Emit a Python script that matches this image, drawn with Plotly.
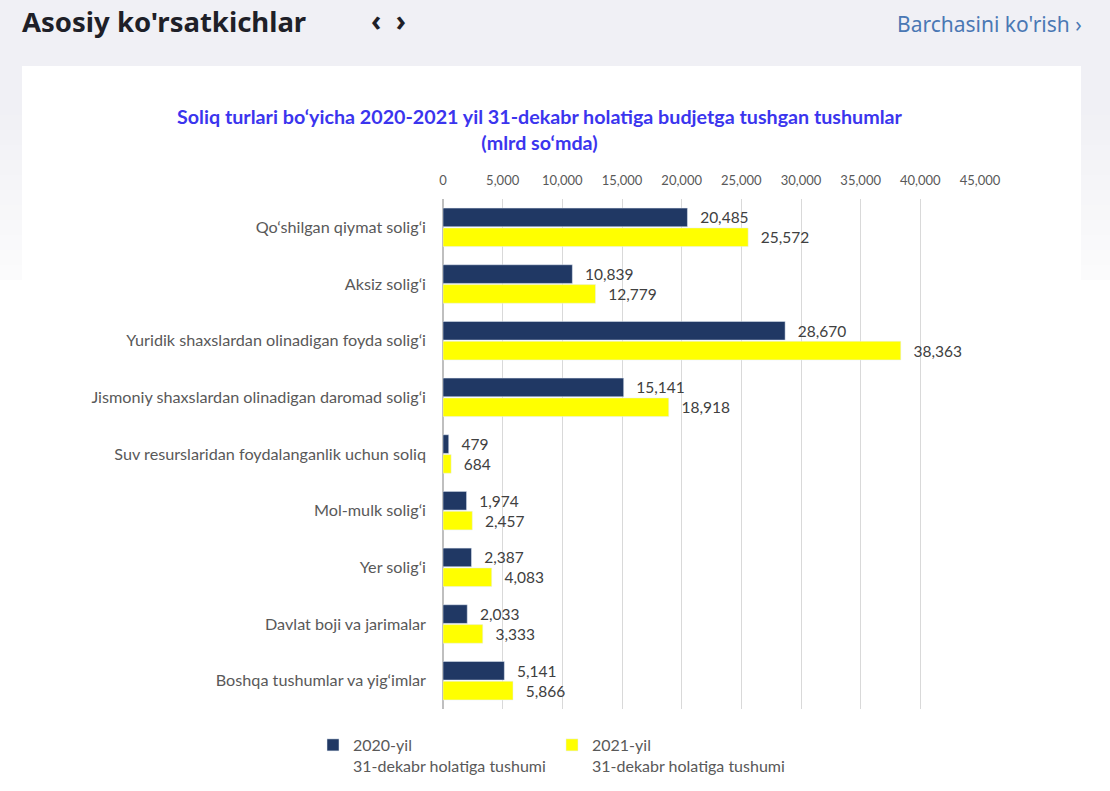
import plotly.graph_objects as go

# data (mlrd so'm)
categories = [
    "Qo‘shilgan qiymat solig‘i",
    "Aksiz solig‘i",
    "Yuridik shaxslardan olinadigan foyda solig‘i",
    "Jismoniy shaxslardan olinadigan daromad solig‘i",
    "Suv resurslaridan foydalanganlik uchun soliq",
    "Mol-mulk solig‘i",
    "Yer solig‘i",
    "Davlat boji va jarimalar",
    "Boshqa tushumlar va yig‘imlar",
]
values_2020 = [20485, 10839, 28670, 15141, 479, 1974, 2387, 2033, 5141]
values_2021 = [25572, 12779, 38363, 18918, 684, 2457, 4083, 3333, 5866]
series_names = [
    "2020-yil<br>31-dekabr holatiga tushumi",
    "2021-yil<br>31-dekabr holatiga tushumi",
]
x_ticks = [0, 5000, 10000, 15000, 20000, 25000, 30000, 35000, 40000, 45000]

W, H = 1110, 791
FONT = "Lato"


def px_x(v):
    return v / W


def px_y(v):
    return 1 - v / H


fig = go.Figure()
fig.add_trace(go.Bar(
    y=categories, x=values_2020, orientation="h", name=series_names[0],
    marker_color="#203864", texttemplate="\u2002\u2009%{x:,.0f}", textposition="outside",
    textfont=dict(size=15.5, color="#404040"), cliponaxis=False,
))
fig.add_trace(go.Bar(
    y=categories, x=values_2021, orientation="h", name=series_names[1],
    marker_color="#ffff00", texttemplate="\u2002\u2009%{x:,.0f}", textposition="outside",
    textfont=dict(size=15.5, color="#404040"), cliponaxis=False,
))

# page background: grey band fading to white, then the white card
shapes = [dict(type="rect", xref="paper", yref="paper", x0=0, x1=1,
               y0=px_y(100), y1=1, fillcolor="#f0f0f5", line_width=0, layer="below")]
n = 12
for i in range(n):
    t = i / n
    r = int(240 + (252 - 240) * t)
    b = int(245 + (253 - 245) * t)
    shapes.append(dict(type="rect", xref="paper", yref="paper", x0=0, x1=1,
                       y0=px_y(100 + 15 * (i + 1)), y1=px_y(100 + 15 * i),
                       fillcolor=f"rgb({r},{r},{b})", line_width=0, layer="below"))
shapes.append(dict(type="rect", xref="paper", yref="paper", x0=px_x(22), x1=px_x(1081),
                   y0=0, y1=px_y(66), fillcolor="white", line_width=0, layer="below"))

annotations = [
    dict(text="<b>Asosiy ko'rsatkichlar</b>", x=px_x(20), y=px_y(21), xref="paper", yref="paper",
         xanchor="left", yanchor="middle", showarrow=False,
         font=dict(family="Noto Sans", size=27.5, color="#1e1f28")),
    dict(text="<b>‹  ›</b>", x=px_x(389), y=px_y(20), xref="paper", yref="paper",
         xanchor="center", yanchor="middle", showarrow=False,
         font=dict(family="Noto Sans", size=28, color="#1e1f28")),
    dict(text="Barchasini ko'rish ›", x=px_x(1084), y=px_y(24), xref="paper", yref="paper",
         xanchor="right", yanchor="middle", showarrow=False,
         font=dict(family="Noto Sans", size=21, color="#4a78b4")),
    dict(text="<b>Soliq turlari bo‘yicha 2020-2021 yil 31-dekabr holatiga budjetga tushgan tushumlar"
              "<br>(mlrd so‘mda)</b>",
         x=px_x(540), y=px_y(129), xref="paper", yref="paper",
         xanchor="center", yanchor="middle", showarrow=False,
         font=dict(family=FONT, size=19.7, color="#3b35ee")),
]

fig.update_layout(
    width=W, height=H,
    margin=dict(l=0, r=0, t=0, b=0, autoexpand=False),
    paper_bgcolor="white", plot_bgcolor="rgba(0,0,0,0)",
    font=dict(family=FONT, color="#595959"),
    barmode="group", bargap=0.3, bargroupgap=0.06,
    shapes=shapes, annotations=annotations,
    showlegend=True,
    legend=dict(orientation="h", x=px_x(313), y=px_y(728), xanchor="left", yanchor="top",
                valign="top", entrywidth=194, font=dict(size=16, color="#595959"),
                bgcolor="rgba(0,0,0,0)", traceorder="normal"),
    xaxis=dict(domain=[px_x(443), px_x(980)], range=[0, 45000], side="top", automargin=False,
               tickvals=x_ticks, tickformat=",", showgrid=True, gridcolor="#d9d9d9",
               zeroline=True, zerolinecolor="#bfbfbf", showline=False, ticks="",
               ticklabelstandoff=10, tickfont=dict(size=13, color="#595959")),
    yaxis=dict(domain=[px_y(709), px_y(199)], autorange="reversed", showgrid=False,
               automargin=False, showline=False, ticks="", ticklabelstandoff=16,
               tickfont=dict(size=16.2, color="#595959")),
)

fig.write_html("out.html", config={"displayModeBar": False, "responsive": False},
               post_script="document.body.style.margin='0';"
                           "document.documentElement.style.overflow='hidden';")
